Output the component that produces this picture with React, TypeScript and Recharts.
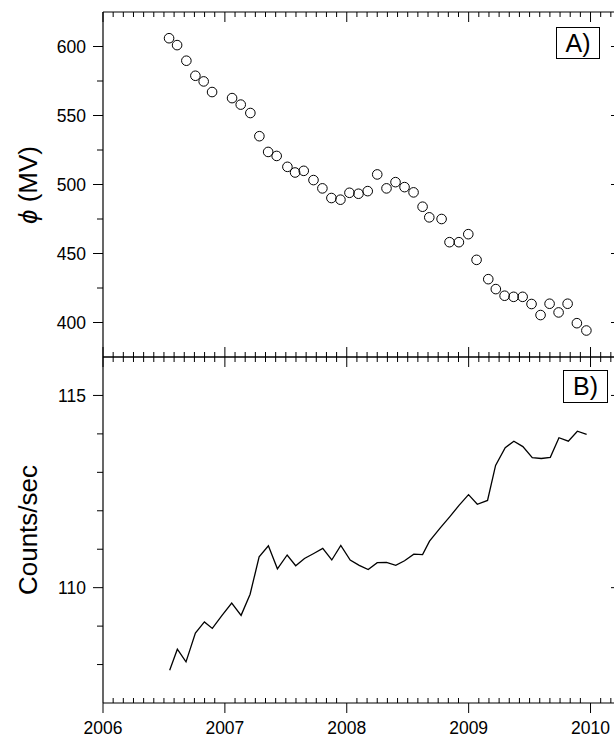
import React from "react";
import { Line, LineChart, Scatter, ScatterChart, XAxis, YAxis } from "recharts";

const INK = "#000000";
const FONT = '"Liberation Sans", Arial, Helvetica, sans-serif';
const TICK_FONT = 17.5;
const TITLE_FONT = 26;

// Panel A: modulation potential, one point per solar rotation
const PHI_YEARS = [
  2006.542, 2006.608, 2006.684, 2006.758, 2006.826, 2006.895,
  2007.059, 2007.13, 2007.209, 2007.283, 2007.355, 2007.425, 2007.513, 2007.576,
  2007.647, 2007.727, 2007.8, 2007.874, 2007.948,
  2008.022, 2008.096, 2008.172, 2008.25, 2008.326, 2008.4, 2008.474, 2008.548,
  2008.622, 2008.677, 2008.778, 2008.843, 2008.92, 2008.997,
  2009.065, 2009.161, 2009.223, 2009.295, 2009.369, 2009.443, 2009.516, 2009.59,
  2009.664, 2009.738, 2009.812, 2009.888, 2009.966,
];
const PHI_MV = [
  606, 601, 589.7, 578.8, 574.7, 567,
  562.6, 557.9, 551.8, 535, 523.6, 520.7, 512.8, 508.7,
  509.9, 503.2, 497.2, 490.2, 489,
  494, 493.3, 495.2, 507.3, 497.2, 501.7, 498.1, 494.3,
  483.9, 476.2, 475, 458.2, 458.2, 464,
  445.4, 431.4, 424.2, 419.4, 418.6, 418.6, 413.4, 405.4,
  413.6, 407.3, 413.6, 399.5, 394.2,
];

// Panel B: count rate
const RATE_YEARS = [
  2006.547, 2006.61, 2006.681, 2006.758, 2006.832, 2006.897, 2006.975,
  2007.056, 2007.133, 2007.207, 2007.281, 2007.357, 2007.431, 2007.511, 2007.581,
  2007.653, 2007.729, 2007.803, 2007.877, 2007.951,
  2008.028, 2008.102, 2008.176, 2008.25, 2008.326, 2008.402, 2008.474, 2008.55,
  2008.622, 2008.679, 2008.769, 2008.846, 2008.921, 2008.999,
  2009.071, 2009.155, 2009.221, 2009.3, 2009.371, 2009.445, 2009.522, 2009.596,
  2009.67, 2009.741, 2009.818, 2009.892, 2009.968,
];
const RATE_COUNTS = [
  107.85, 108.4, 108.07, 108.82, 109.11, 108.94, 109.27,
  109.6, 109.28, 109.83, 110.8, 111.09, 110.49, 110.85, 110.57,
  110.76, 110.89, 111.02, 110.72, 111.1,
  110.72, 110.58, 110.47, 110.65, 110.66, 110.58, 110.7, 110.87,
  110.86, 111.21, 111.56, 111.85, 112.14, 112.42,
  112.17, 112.27, 113.18, 113.64, 113.81, 113.67, 113.38, 113.36,
  113.39, 113.9, 113.81, 114.07, 113.99,
];

const X_DOMAIN = [2006, 2010.25];
const MONTH_TICKS = Array.from({ length: 51 }, (_, k) => 2006 + k / 12);
const PHI_TICKS = [400, 425, 450, 475, 500, 525, 550, 575, 600];
const PHI_LABELED = [400, 450, 500, 550, 600];
const RATE_TICKS = [108, 109, 110, 111, 112, 113, 114, 115];
const RATE_LABELED = [110, 115];

const phiData = PHI_YEARS.map((x, i) => ({ x, y: PHI_MV[i] }));
const rateData = RATE_YEARS.map((x, i) => ({ x, y: RATE_COUNTS[i] }));

const isWhole = (v: number) => Math.abs(v - Math.round(v)) < 1e-6;

// tickSize/tickMargin are 0 so (x, y) is the point on the axis line
const topTick = (p: any) => {
  const len = isWhole(p.payload.value) ? 10 : 5;
  return <line x1={p.x} x2={p.x} y1={p.y} y2={p.y + len} stroke={INK} />;
};

const upTick = (p: any) => {
  const len = isWhole(p.payload.value) ? 10 : 5;
  return <line x1={p.x} x2={p.x} y1={p.y} y2={p.y - len} stroke={INK} />;
};

const yearTick = (p: any) => {
  const v = p.payload.value;
  if (!isWhole(v)) {
    return <line x1={p.x} x2={p.x} y1={p.y} y2={p.y - 5} stroke={INK} />;
  }
  return (
    <g>
      <line x1={p.x} x2={p.x} y1={p.y} y2={p.y + 10} stroke={INK} />
      <text x={p.x} y={p.y + 31} textAnchor="middle" fontSize={TICK_FONT} fontFamily={FONT} fill={INK}>
        {Math.round(v)}
      </text>
    </g>
  );
};

const leftTick = (labeled: number[]) => (p: any) => {
  const v = p.payload.value;
  const major = labeled.includes(v);
  return (
    <g>
      <line x1={p.x} x2={p.x - (major ? 10 : 6)} y1={p.y} y2={p.y} stroke={INK} />
      {major && (
        <text x={p.x - 17} y={p.y} dy="0.35em" textAnchor="end" fontSize={TICK_FONT} fontFamily={FONT} fill={INK}>
          {v}
        </text>
      )}
    </g>
  );
};

const rightTick = (labeled: number[]) => (p: any) => {
  const major = labeled.includes(p.payload.value);
  return <line x1={p.x} x2={p.x - (major ? 10 : 5)} y1={p.y} y2={p.y} stroke={INK} />;
};

const OpenCircle = (p: any) => (
  <circle cx={p.cx} cy={p.cy} r={4.8} fill="none" stroke={INK} strokeWidth={1} />
);

const xCommon = {
  type: "number" as const,
  dataKey: "x",
  domain: X_DOMAIN,
  ticks: MONTH_TICKS,
  interval: 0 as const,
  height: 1,
  tickSize: 0,
  tickMargin: 0,
  tickLine: false,
  allowDataOverflow: true,
  axisLine: { stroke: INK, strokeWidth: 1.2 },
};

const yCommon = {
  type: "number" as const,
  dataKey: "y",
  interval: 0 as const,
  tickSize: 0,
  tickMargin: 0,
  tickLine: false,
  allowDataOverflow: true,
  axisLine: { stroke: INK, strokeWidth: 1.2 },
};

const boxStyle: React.CSSProperties = {
  position: "absolute",
  border: "1px solid #000",
  fontFamily: FONT,
  fontSize: 25,
  lineHeight: 1,
  display: "flex",
  alignItems: "center",
  justifyContent: "center",
  background: "#fff",
  boxSizing: "border-box",
};

const titleStyle: React.CSSProperties = {
  position: "absolute",
  transform: "translate(-50%, -50%) rotate(-90deg)",
  whiteSpace: "nowrap",
  fontFamily: FONT,
  fontSize: TITLE_FONT,
  color: INK,
};

export default function App() {
  return (
    <div
      style={{
        position: "absolute",
        left: 0,
        top: 0,
        width: 614,
        height: 737,
        overflow: "hidden",
        background: "#fff",
      }}
    >
      <div style={{ position: "absolute", left: 0, top: 0 }}>
        <ScatterChart width={622} height={360} margin={{ top: 11, right: 0, bottom: 2, left: 0 }}>
          <XAxis {...xCommon} xAxisId="b" orientation="bottom" tick={upTick} />
          <XAxis {...xCommon} xAxisId="t" orientation="top" tick={topTick} />
          <YAxis {...yCommon} yAxisId="l" width={103} domain={[375, 625]} ticks={PHI_TICKS} tick={leftTick(PHI_LABELED)} />
          <YAxis
            {...yCommon}
            yAxisId="r"
            orientation="right"
            width={1}
            domain={[375, 625]}
            ticks={PHI_TICKS}
            tick={rightTick(PHI_LABELED)}
          />
          <Scatter data={phiData} xAxisId="b" yAxisId="l" shape={OpenCircle} isAnimationActive={false} />
          <Scatter data={phiData} xAxisId="t" yAxisId="r" shape={() => <g />} isAnimationActive={false} />
        </ScatterChart>
      </div>

      <div style={{ position: "absolute", left: 0, top: 354 }}>
        <LineChart width={622} height={383} data={rateData} margin={{ top: 2, right: 0, bottom: 33, left: 0 }}>
          <XAxis {...xCommon} xAxisId="b" orientation="bottom" tick={yearTick} />
          <XAxis {...xCommon} xAxisId="t" orientation="top" tick={topTick} />
          <YAxis {...yCommon} yAxisId="l" width={103} domain={[107, 116]} ticks={RATE_TICKS} tick={leftTick(RATE_LABELED)} />
          <YAxis
            {...yCommon}
            yAxisId="r"
            orientation="right"
            width={1}
            domain={[107, 116]}
            ticks={RATE_TICKS}
            tick={rightTick(RATE_LABELED)}
          />
          <Line
            xAxisId="b"
            yAxisId="l"
            type="linear"
            dataKey="y"
            stroke={INK}
            strokeWidth={1.3}
            dot={false}
            isAnimationActive={false}
          />
          <Line
            xAxisId="t"
            yAxisId="r"
            type="linear"
            dataKey="y"
            stroke="none"
            dot={false}
            activeDot={false}
            isAnimationActive={false}
          />
        </LineChart>
      </div>

      <div style={{ ...titleStyle, left: 28, top: 184.5 }}>
        <span style={{ fontStyle: "italic" }}>ϕ</span> (MV)
      </div>
      <div style={{ ...titleStyle, left: 28, top: 530 }}>Counts/sec</div>

      <div style={{ ...boxStyle, left: 556, top: 27, width: 44, height: 32 }}>A)</div>
      <div style={{ ...boxStyle, left: 563, top: 370, width: 45, height: 33 }}>B)</div>
    </div>
  );
}
